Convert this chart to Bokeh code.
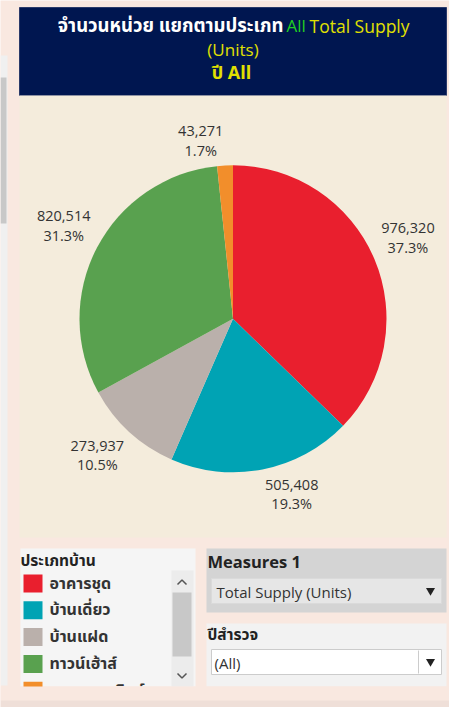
import numpy as np
from bokeh.plotting import figure
from bokeh.models import Range1d
from bokeh.core.properties import value
from bokeh.embed import file_html
from bokeh.resources import INLINE

# ---------------- data ----------------
categories = ["อาคารชุด", "บ้านเดี่ยว", "บ้านแฝด", "ทาวน์เฮ้าส์", "อาคารพาณิชย์"]
units = [976320, 505408, 273937, 820514, 43271]
colors = ["#E91F2E", "#00A3B4", "#BAB0AB", "#59A14F", "#F28E2B"]
legend_title = "ประเภทบ้าน"
title_line1 = ["จำนวนหน่วย แยกตามประเภท", "All", "Total Supply"]
title_line2 = "(Units)"
title_line3 = "ปี All"
measure_title = "Measures 1"
measure_value = "Total Supply (Units)"
year_title = "ปีสำรวจ"
year_value = "(All)"

# ---------------- layout helpers (reference pixel -> data) ----------------
W, H = 449, 707
def X(rx):
    return rx
def Y(ry):
    return H - ry

PINK = "#F9E8E0"
BEIGE = "#F4ECDC"
NAVY = "#001650"
FONT = "'Open Sans', 'Noto Sans Thai', 'Noto Sans', sans-serif"
THAI = "'Noto Sans Thai', 'Noto Sans', 'Open Sans', sans-serif"

p = figure(width=W, height=H, x_range=Range1d(0, W), y_range=Range1d(0, H),
           output_backend="svg", toolbar_location=None, min_border=0,
           x_axis_type=None, y_axis_type=None,
           background_fill_color=PINK, border_fill_color=PINK,
           outline_line_color=None)
p.grid.visible = False

def box(l, r, t, b, fill, line=None):
    p.quad(left=X(l), right=X(r), top=Y(t), bottom=Y(b), fill_color=fill,
           line_color=line, line_width=1)

def txt(x, y, s, size, color="#333333", bold=False, align="left", font=FONT):
    p.text(x=[X(x)], y=[Y(y)], text=[s], text_font=value(font),
           text_font_size=f"{size}px", text_color=color,
           text_font_style="bold" if bold else "normal",
           text_align=align, text_baseline="middle")

# left side strip
box(0, 7, 55, 685, "#F0F0F0")
box(0, 6, 77, 223, "#C8C8C8")

# title box
box(19, 446, 7, 95, NAVY, "#2a3a6a")
txt(283, 25, title_line1[0], 18.5, "#FFFFFF", bold=True, align="right", font=THAI)
txt(286, 25, title_line1[1], 17, "#22D022")
txt(309, 25, title_line1[2], 17.5, "#E0E000")
txt(232.5, 49, title_line2, 17, "#E0E000", align="center")
txt(231, 73, title_line3, 18, "#E0E000", bold=True, align="center", font=THAI)

# chart area
box(19, 446, 95, 537, BEIGE)

# pie
vals = np.array(units, dtype=float)
frac = vals / vals.sum()
c1 = np.cumsum(frac)
c0 = c1 - frac
cx, cy, r = X(232.5), Y(318.3), 153.5
p.wedge(x=cx, y=cy, radius=r,
        start_angle=list(np.pi / 2 - 2 * np.pi * c1),
        end_angle=list(np.pi / 2 - 2 * np.pi * c0),
        direction="anticlock", fill_color=colors, line_color=None)

# labels placed outside each slice at its mid angle
mid = (c0 + c1) / 2 * 2 * np.pi
for v, f, a in zip(units, frac, mid):
    s1 = f"{v:,}"
    s2 = f"{f * 100:.1f}%"
    ax = cx + (r + 6) * np.sin(a)
    ay = cy + (r + 6) * np.cos(a)
    hw = len(s1) * 4.0
    bx = ax + hw if np.sin(a) > 0 else ax - hw
    if np.cos(a) > 0:
        y1, y2 = ay + 28.5, ay + 9.5
    else:
        y1, y2 = ay - 9.5, ay - 28.5
    p.text(x=[bx, bx], y=[y1, y2], text=[s1, s2], text_font=value(FONT),
           text_font_size="14.5px", text_color="#333333",
           text_align="center", text_baseline="middle")

# legend panel
box(20, 195, 548, 686, "#F5F5F5")
txt(20, 561, legend_title, 15.5, "#222222", bold=True, font=THAI)
for i, (c, name) in enumerate(zip(colors, categories)):
    top = 574 + 26.8 * i
    box(23, 42, top, top + 18, c)
    txt(49, top + 9, name, 16, "#333333", bold=True, font=THAI)
# scrollbar
box(171, 193, 570, 686, "#ECECEC")
box(172, 191, 592, 656, "#C8C8C8")
p.line(x=[X(177), X(181.5), X(186)], y=[Y(584), Y(579.5), Y(584)], line_color="#555555", line_width=1.5)
p.line(x=[X(177), X(181.5), X(186)], y=[Y(673), Y(677.5), Y(673)], line_color="#555555", line_width=1.5)

# measures panel
box(206, 446, 548, 612, "#D4D4D4")
txt(207, 561, measure_title, 16.5, "#222222", bold=True)
box(211, 441, 578, 603, "#E6E6E6", "#DADADA")
txt(216, 591, measure_value, 15, "#333333")
p.scatter(x=[X(430)], y=[Y(590)], marker="inverted_triangle", size=9,
          fill_color="#222222", line_color=None)

# year filter panel
box(206, 446, 623, 686, "#F2F2F2")
txt(207, 635, year_title, 15.5, "#222222", bold=True, font=THAI)
box(211, 441, 649, 674, "#FFFFFF", "#CCCCCC")
p.line(x=[X(418), X(418)], y=[Y(650), Y(673)], line_color="#CCCCCC", line_width=1)
txt(214, 662, year_value, 15, "#333333")
p.scatter(x=[X(430)], y=[Y(661)], marker="inverted_triangle", size=9,
          fill_color="#222222", line_color=None)

# bottom strip (clips legend overflow)
box(0, 449, 686, 700, PINK)
box(0, 449, 700, 707, "#EFDFD8")

open("out.html", "w").write(file_html(p, INLINE))
